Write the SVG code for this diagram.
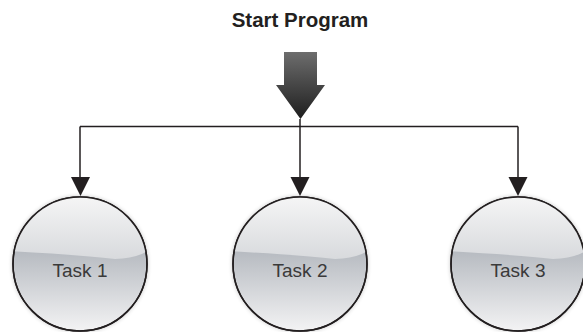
<svg xmlns="http://www.w3.org/2000/svg" width="583" height="332" viewBox="0 0 583 332">
<style>
.title{font-family:"Liberation Sans",Arial,sans-serif;font-weight:bold;font-size:20.5px;fill:#231f20}
.lbl{font-family:"Liberation Sans",Arial,sans-serif;font-size:19px;fill:#3a3a3a}
.conn{fill:none;stroke:#231f20;stroke-width:1.5}
.head{fill:#231f20}
.body{fill:url(#gBody);stroke:#231f20;stroke-width:1.5}
.gloss{fill:url(#gGloss)}
</style>
<defs>
<linearGradient id="gBody" x1="0" y1="0" x2="0" y2="1">
<stop offset="0" stop-color="#c4c7cc"/>
<stop offset="0.42" stop-color="#b8bcc2"/>
<stop offset="1" stop-color="#f3f3f4"/>
</linearGradient>
<linearGradient id="gGloss" x1="0" y1="0" x2="0" y2="1">
<stop offset="0" stop-color="#f8f8f8"/>
<stop offset="1" stop-color="#d8dadd"/>
</linearGradient>
<linearGradient id="gArrow" x1="0" y1="0" x2="0" y2="1">
<stop offset="0" stop-color="#6d6d6d"/>
<stop offset="1" stop-color="#1e1e1e"/>
</linearGradient>
<filter id="sh" x="-20%" y="-20%" width="140%" height="140%">
<feGaussianBlur in="SourceAlpha" stdDeviation="2"/>
<feComponentTransfer><feFuncA type="linear" slope="0.22"/></feComponentTransfer>
<feMerge><feMergeNode/><feMergeNode in="SourceGraphic"/></feMerge>
</filter>
<clipPath id="c1"><circle cx="80" cy="264" r="67"/></clipPath>
<clipPath id="c2"><circle cx="300" cy="264" r="67"/></clipPath>
<clipPath id="c3"><circle cx="518" cy="264" r="67"/></clipPath>
</defs>

<g id="title"><text class="title" x="300" y="27" text-anchor="middle">Start Program</text></g>

<g id="start-arrow">
<path d="M284,52 H317 V85 H325 L300.5,119 L276,85 H284 Z" fill="url(#gArrow)"/>
</g>

<g id="connectors">
<path class="conn" d="M80,126.5 H518"/>
<path class="conn" d="M300,119 V178"/>
<path class="conn" d="M80,126.5 V178"/>
<path class="conn" d="M518,126.5 V178"/>
<path class="head" d="M71,177 H90 L80.5,196 Z"/>
<path class="head" d="M290.5,177 H309.5 L300,196 Z"/>
<path class="head" d="M508.5,177 H527.5 L518,196 Z"/>
</g>

<g id="task1">
<circle class="body" cx="80" cy="264" r="67" filter="url(#sh)"/>
<path class="gloss" clip-path="url(#c1)" d="M8,190 H152 V248 Q140,258 115,259 Q80,255 8,251 Z"/>
<circle cx="80" cy="264" r="67" fill="none" stroke="#231f20" stroke-width="1.5"/>
<text class="lbl" x="80" y="277" text-anchor="middle">Task 1</text>
</g>

<g id="task2">
<circle class="body" cx="300" cy="264" r="67" filter="url(#sh)"/>
<path class="gloss" clip-path="url(#c2)" d="M228,190 H372 V248 Q360,258 335,259 Q300,255 228,251 Z"/>
<circle cx="300" cy="264" r="67" fill="none" stroke="#231f20" stroke-width="1.5"/>
<text class="lbl" x="300" y="277" text-anchor="middle">Task 2</text>
</g>

<g id="task3">
<circle class="body" cx="518" cy="264" r="67" filter="url(#sh)"/>
<path class="gloss" clip-path="url(#c3)" d="M446,190 H590 V248 Q578,258 553,259 Q518,255 446,251 Z"/>
<circle cx="518" cy="264" r="67" fill="none" stroke="#231f20" stroke-width="1.5"/>
<text class="lbl" x="518" y="277" text-anchor="middle">Task 3</text>
</g>
</svg>
